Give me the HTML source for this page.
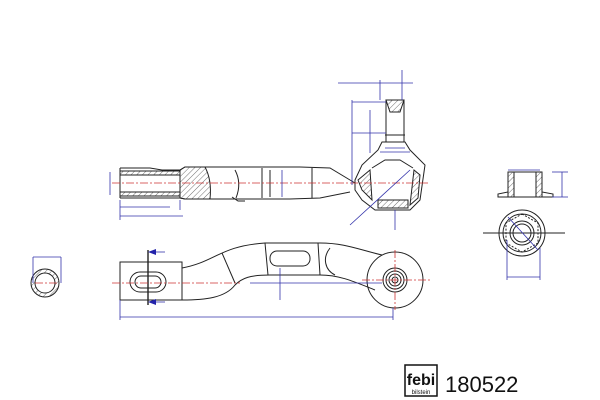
<!DOCTYPE html><html><head><style>body{margin:0;background:#fff}svg{display:block}</style></head><body>
<svg width="600" height="400" viewBox="0 0 600 400" xmlns="http://www.w3.org/2000/svg" font-family="Liberation Sans, sans-serif">
<defs><pattern id="h" width="4" height="4" patternUnits="userSpaceOnUse" patternTransform="rotate(45)"><line x1="0" y1="0" x2="0" y2="4" stroke="#333" stroke-width="0.7"/></pattern></defs>
<g fill="none" stroke="#222" stroke-width="1">
<!-- top view shaft -->
<path d="M120 168 L150 168 L162 170 L180 170 L185 167 L300 167 L330 168 L350 180 L355 183"/>
<path d="M120 198 L180 198 L185 199 L290 199 L320 198 L350 192"/>
<line x1="120" y1="168" x2="120" y2="198"/>
<rect x="120" y="171" width="60" height="4" fill="url(#h)"/>
<rect x="120" y="192" width="60" height="4" fill="url(#h)"/>
<path d="M180 170 L185 167 L205 167 Q212 180 210 199 L185 199 L180 198 Z" fill="url(#h)"/>
<path d="M235 170 Q242 183 236 198"/><line x1="262" y1="168" x2="262" y2="198"/><line x1="270" y1="170" x2="270" y2="197"/><line x1="312" y1="168" x2="312" y2="198"/>
<path d="M232 197 L238 201 L245 201"/>
<!-- ball joint -->
<path d="M355 180 L362 165 L378 150 L382 142 L405 142 L410 150 L425 165 L420 200 L410 210 L375 210 L362 200 L355 190 Z"/>
<path d="M358 180 L362 190 L372 200 L370 170 Z" fill="url(#h)"/>
<path d="M414 170 L420 175 L418 198 L410 205 Z" fill="url(#h)"/>
<rect x="378" y="200" width="30" height="8" fill="url(#h)"/>
<path d="M372 168 L385 160 L400 160 L413 168"/>
<rect x="386" y="100" width="18" height="42"/>
<path d="M386 100 L404 100 L400 112 L390 112 Z" fill="url(#h)"/>
<line x1="385" y1="135" x2="405" y2="135"/>
<!-- bottom arm -->
<rect x="120" y="262" width="62" height="38"/>
<rect x="130" y="272" width="36" height="20" rx="10"/>
<rect x="135" y="276" width="26" height="12" rx="6"/>
<path d="M182 268 C215 262 220 246 265 243 L320 243 C345 243 360 250 382 255"/>
<path d="M182 300 C205 300 225 298 235 285 C242 278 250 275 270 275 L320 275 C340 275 355 282 375 290"/>
<path d="M222 253 L235 283"/><line x1="265" y1="243" x2="268" y2="275"/><line x1="318" y1="243" x2="320" y2="275"/>
<rect x="270" y="251" width="40" height="15" rx="7"/>
<path d="M330 248 C322 258 325 270 335 275"/>
<circle cx="395" cy="280" r="28"/><circle cx="395" cy="280" r="12"/><circle cx="395" cy="280" r="9"/><circle cx="395" cy="280" r="6"/><circle cx="395" cy="280" r="3"/>
<line x1="148" y1="250" x2="148" y2="305" stroke-width="1.4"/>
<!-- left circle -->
<circle cx="45" cy="283" r="14"/><circle cx="45" cy="283" r="10"/>
<path d="M31 283 a14 14 0 0 1 28 0 h-4 a10 10 0 0 0 -20 0 Z" fill="url(#h)" stroke="none"/>
<path d="M31 283 a14 14 0 0 0 28 0 h-4 a10 10 0 0 1 -20 0 Z" fill="url(#h)" stroke="none"/>
<!-- nut -->
<path d="M508 172 L542 172 L542 192 L553 194 L553 197 L498 197 L498 194 L508 192 Z"/>
<rect x="508" y="172" width="6" height="25" fill="url(#h)"/><rect x="536" y="172" width="6" height="25" fill="url(#h)"/>
<circle cx="522" cy="233" r="23"/><circle cx="522" cy="233" r="19"/><circle cx="522" cy="233" r="12"/><circle cx="522" cy="233" r="9"/>
<polygon points="522,214 538,223 538,243 522,252 506,243 506,223" stroke-dasharray="2 1.5"/>
<line x1="483" y1="233" x2="565" y2="233"/>
</g>
<!-- centerlines -->
<g stroke="#c33" stroke-width="0.8" stroke-dasharray="8 2 2 2">
<line x1="112" y1="183" x2="430" y2="183"/><line x1="112" y1="283" x2="240" y2="283"/>
<line x1="362" y1="280" x2="430" y2="280"/><line x1="395" y1="250" x2="395" y2="310"/><line x1="35" y1="283" x2="58" y2="283"/>
</g>
<!-- blue dims -->
<g stroke="#33a" stroke-width="0.8" fill="none">
<line x1="110" y1="172" x2="110" y2="195"/><line x1="120" y1="200" x2="120" y2="220"/><line x1="180" y1="200" x2="180" y2="210"/><line x1="120" y1="216" x2="183" y2="216"/><line x1="120" y1="207" x2="170" y2="207"/>
<line x1="282" y1="170" x2="282" y2="197"/>
<line x1="338" y1="83" x2="413" y2="83"/><line x1="380" y1="80" x2="380" y2="100"/><line x1="402" y1="70" x2="402" y2="100"/>
<line x1="352" y1="100" x2="352" y2="185"/><line x1="352" y1="102" x2="386" y2="102"/><line x1="370" y1="110" x2="370" y2="153"/><line x1="352" y1="133" x2="386" y2="133"/>
<line x1="385" y1="148" x2="405" y2="148"/><line x1="380" y1="152" x2="410" y2="152"/>
<line x1="350" y1="225" x2="410" y2="170"/>
<line x1="395" y1="210" x2="395" y2="230"/>
<line x1="120" y1="300" x2="120" y2="320"/><line x1="120" y1="317" x2="393" y2="317"/><line x1="393" y1="308" x2="393" y2="320"/>
<line x1="250" y1="283" x2="382" y2="283"/><line x1="280" y1="268" x2="280" y2="300"/>
<line x1="150" y1="252" x2="165" y2="252"/><line x1="150" y1="302" x2="165" y2="302"/>
<line x1="33" y1="257" x2="61" y2="257"/><line x1="33" y1="257" x2="33" y2="283"/><line x1="61" y1="257" x2="61" y2="283"/>
<line x1="508" y1="170" x2="540" y2="170"/><line x1="552" y1="172" x2="568" y2="172"/><line x1="552" y1="197" x2="568" y2="197"/><line x1="562" y1="172" x2="562" y2="197"/>
<line x1="508" y1="217" x2="538" y2="250"/><line x1="507" y1="240" x2="507" y2="280"/><line x1="540" y1="248" x2="540" y2="280"/><line x1="507" y1="277" x2="540" y2="277"/>
</g>
<g fill="#22a">
<path d="M148 252 l8 -3 v6z M148 302 l8 -3 v6z"/>
</g>
<!-- logo -->
<rect x="405" y="365" width="32" height="31" fill="#fff" stroke="#111" stroke-width="1.5"/>
<text x="421" y="385" font-size="16" font-weight="bold" text-anchor="middle" fill="#111">febi</text>
<text x="421" y="394" font-size="6" text-anchor="middle" fill="#111">bilstein</text>
<text x="445" y="392" font-size="22" fill="#111">180522</text>
</svg>
</body></html>
